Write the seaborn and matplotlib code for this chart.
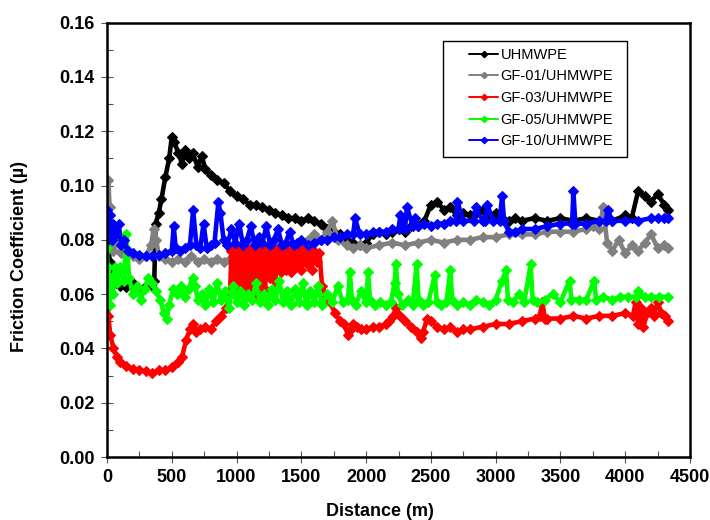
import matplotlib
matplotlib.use("Agg")
import matplotlib.pyplot as plt
import seaborn as sns
from matplotlib.ticker import MultipleLocator, FormatStrFormatter
from matplotlib.lines import Line2D
from matplotlib.patches import Rectangle

# ---------------- data ----------------
series_names = ["UHMWPE", "GF-01/UHMWPE", "GF-03/UHMWPE", "GF-05/UHMWPE", "GF-10/UHMWPE"]
series_colors = ["#000000", "#808080", "#FF0000", "#00FF00", "#0000FF"]

uhmwpe_x = [0, 10, 20, 40, 70, 100, 150, 200, 250, 300,
            340, 365, 375, 400, 420, 450, 480, 500, 520, 550,
            580, 600, 630, 660, 700, 730, 760, 800, 850, 900,
            950, 1000, 1050, 1100, 1150, 1200, 1250, 1300, 1350, 1400,
            1450, 1500, 1550, 1600, 1650, 1700, 1750, 1800, 1850, 1900,
            1950, 2000, 2050, 2100, 2150, 2200, 2250, 2300, 2350, 2400,
            2450, 2500, 2550, 2600, 2650, 2700, 2750, 2800, 2850, 2900,
            2950, 3000, 3050, 3100, 3150, 3200, 3300, 3400, 3500, 3600,
            3700, 3800, 3900, 4000, 4050, 4100, 4150, 4200, 4250, 4300,
            4330]
uhmwpe_y = [0.086, 0.080, 0.072, 0.067, 0.064, 0.063, 0.0625, 0.064, 0.062, 0.063,
            0.0635, 0.065, 0.086, 0.090, 0.095, 0.103, 0.110, 0.118, 0.116, 0.112,
            0.108, 0.113, 0.110, 0.112, 0.107, 0.111, 0.106, 0.104, 0.102, 0.101,
            0.098, 0.096, 0.095, 0.093, 0.093, 0.092, 0.091, 0.090, 0.089, 0.088,
            0.088, 0.087, 0.088, 0.087, 0.086, 0.084, 0.083, 0.082, 0.080, 0.079,
            0.078, 0.079, 0.082, 0.083, 0.082, 0.083, 0.084, 0.083, 0.085, 0.085,
            0.087, 0.093, 0.094, 0.091, 0.092, 0.089, 0.090, 0.089, 0.090, 0.091,
            0.089, 0.090, 0.088, 0.087, 0.088, 0.087, 0.088, 0.087, 0.088, 0.087,
            0.088, 0.087, 0.087, 0.089, 0.088, 0.098, 0.096, 0.094, 0.097, 0.093,
            0.091]

gf01_x = [0, 10, 20, 30, 50, 80, 110, 150, 200, 250,
          300, 340, 360, 380, 400, 450, 500, 550, 600, 650,
          700, 750, 800, 850, 900, 950, 1000, 1050, 1100, 1150,
          1200, 1250, 1300, 1350, 1400, 1450, 1500, 1550, 1600, 1650,
          1700, 1740, 1780, 1850, 1900, 1950, 2000, 2100, 2200, 2300,
          2400, 2500, 2600, 2700, 2800, 2900, 3000, 3100, 3200, 3300,
          3400, 3500, 3600, 3700, 3750, 3800, 3830, 3860, 3900, 3950,
          4000, 4050, 4100, 4150, 4200, 4250, 4300, 4330]
gf01_y = [0.085, 0.102, 0.092, 0.082, 0.076, 0.080, 0.075, 0.077, 0.074, 0.073,
          0.074, 0.078, 0.084, 0.080, 0.074, 0.073, 0.072, 0.073, 0.072, 0.074,
          0.072, 0.073, 0.072, 0.073, 0.072, 0.073, 0.072, 0.073, 0.072, 0.073,
          0.072, 0.073, 0.072, 0.074, 0.076, 0.078, 0.079, 0.080, 0.082, 0.080,
          0.083, 0.087, 0.080, 0.078, 0.077, 0.078, 0.077, 0.078, 0.079, 0.078,
          0.079, 0.080, 0.079, 0.080, 0.080, 0.081, 0.081, 0.082, 0.082, 0.082,
          0.083, 0.083, 0.083, 0.084, 0.085, 0.084, 0.092, 0.079, 0.076, 0.080,
          0.075, 0.078, 0.076, 0.079, 0.082, 0.077, 0.078, 0.077]

gf03_x = [0, 10, 25, 50, 75, 100, 150, 200, 250, 300,
          350, 400, 450, 500, 550, 580, 610, 640, 665, 690,
          720, 760, 800, 840, 880, 920, 950, 960, 975, 990,
          1005, 1020, 1035, 1050, 1065, 1080, 1095, 1110, 1125, 1140,
          1155, 1170, 1185, 1200, 1220, 1240, 1260, 1280, 1300, 1320,
          1340, 1360, 1380, 1400, 1420, 1440, 1460, 1480, 1500, 1520,
          1540, 1560, 1580, 1600, 1620, 1640, 1660, 1690, 1720, 1760,
          1800, 1830, 1860, 1880, 1900, 1930, 1960, 2000, 2050, 2100,
          2150, 2180, 2210, 2230, 2260, 2300, 2350, 2390, 2420, 2440,
          2470, 2500, 2550, 2600, 2650, 2700, 2750, 2800, 2900, 3000,
          3100, 3200, 3300, 3340, 3360, 3380, 3400, 3500, 3600, 3700,
          3800, 3900, 4000, 4060, 4080, 4100, 4120, 4140, 4170, 4200,
          4220, 4250, 4280, 4310, 4330]
gf03_y = [0.060, 0.052, 0.045, 0.040, 0.037, 0.035, 0.0335, 0.0325, 0.032, 0.0315,
          0.031, 0.032, 0.032, 0.033, 0.035, 0.037, 0.043, 0.047, 0.049, 0.046,
          0.047, 0.048, 0.047, 0.050, 0.052, 0.055, 0.060, 0.076, 0.061, 0.077,
          0.060, 0.075, 0.062, 0.077, 0.061, 0.076, 0.060, 0.077, 0.062, 0.075,
          0.060, 0.077, 0.063, 0.076, 0.062, 0.077, 0.066, 0.076, 0.065, 0.077,
          0.068, 0.077, 0.069, 0.076, 0.068, 0.078, 0.070, 0.077, 0.069, 0.076,
          0.071, 0.077, 0.069, 0.076, 0.072, 0.075, 0.063, 0.059, 0.057, 0.053,
          0.050, 0.049, 0.045, 0.047, 0.049, 0.048, 0.047, 0.047, 0.048, 0.048,
          0.049, 0.050, 0.052, 0.055, 0.052, 0.050, 0.048, 0.046, 0.044, 0.046,
          0.051, 0.050, 0.048, 0.047, 0.048, 0.046, 0.047, 0.047, 0.048, 0.049,
          0.049, 0.050, 0.051, 0.052, 0.057, 0.051, 0.051, 0.051, 0.052, 0.051,
          0.052, 0.052, 0.053, 0.052, 0.057, 0.049, 0.055, 0.048, 0.053, 0.055,
          0.052, 0.057, 0.053, 0.052, 0.050]

gf05_x = [0, 5, 10, 20, 30, 45, 60, 80, 100, 130,
          150, 170, 200, 230, 260, 290, 320, 350, 380, 410,
          440, 460, 480, 510, 540, 570, 600, 630, 660, 680,
          700, 730, 760, 790, 820, 850, 880, 910, 940, 970,
          1000, 1030, 1060, 1090, 1120, 1150, 1180, 1210, 1240, 1270,
          1300, 1330, 1360, 1390, 1420, 1450, 1480, 1510, 1540, 1570,
          1600, 1630, 1660, 1700, 1740, 1780, 1820, 1860, 1875, 1890,
          1920, 1960, 2000, 2015, 2030, 2070, 2110, 2150, 2190, 2220,
          2230, 2245, 2280, 2320, 2360, 2390, 2405, 2440, 2480, 2530,
          2545, 2580, 2620, 2650, 2665, 2700, 2750, 2800, 2850, 2900,
          2950, 3000, 3050, 3080, 3095, 3130, 3180, 3220, 3270, 3285,
          3320, 3380, 3440, 3500, 3570, 3585, 3640, 3700, 3760, 3775,
          3830, 3900, 3960, 4020, 4080, 4100, 4150, 4200, 4260, 4330]
gf05_y = [0.077, 0.060, 0.070, 0.056, 0.066, 0.060, 0.070, 0.064, 0.070, 0.065,
          0.082, 0.066, 0.060, 0.063, 0.058, 0.062, 0.066, 0.064, 0.061, 0.058,
          0.053, 0.051, 0.056, 0.062, 0.060, 0.063, 0.059, 0.062, 0.066, 0.063,
          0.058, 0.060, 0.056, 0.062, 0.057, 0.064, 0.058, 0.061, 0.055, 0.063,
          0.057, 0.061, 0.056, 0.060, 0.058, 0.064, 0.057, 0.060, 0.056, 0.062,
          0.058, 0.065, 0.057, 0.061, 0.056, 0.062, 0.057, 0.064, 0.056, 0.061,
          0.057, 0.063, 0.056, 0.060, 0.057, 0.063, 0.057, 0.058, 0.068, 0.058,
          0.056, 0.061, 0.057, 0.068, 0.058, 0.056, 0.057, 0.056, 0.057, 0.064,
          0.071, 0.060, 0.056, 0.058, 0.056, 0.071, 0.058, 0.056, 0.057, 0.067,
          0.057, 0.056, 0.057, 0.069, 0.058, 0.056, 0.057, 0.056, 0.058, 0.057,
          0.056, 0.058, 0.065, 0.069, 0.058, 0.057, 0.060, 0.057, 0.071, 0.058,
          0.057, 0.058, 0.060, 0.057, 0.065, 0.058, 0.058, 0.058, 0.065, 0.058,
          0.059, 0.058, 0.059, 0.059, 0.059, 0.061, 0.059, 0.059, 0.059, 0.059]

gf10_x = [0, 10, 20, 35, 50, 70, 90, 110, 130, 160,
          200, 250, 300, 350, 400, 450, 500, 515, 530, 560,
          600, 640, 665, 690, 720, 745, 770, 800, 830, 860,
          875, 900, 930, 960, 990, 1020, 1050, 1080, 1110, 1140,
          1170, 1200, 1230, 1260, 1290, 1320, 1350, 1380, 1410, 1440,
          1470, 1500, 1550, 1600, 1650, 1700, 1750, 1800, 1850, 1900,
          1915, 1950, 2000, 2050, 2100, 2150, 2200, 2250, 2265, 2300,
          2315, 2360, 2375, 2400, 2450, 2500, 2550, 2600, 2650, 2690,
          2705, 2750, 2830, 2845, 2900, 2920, 2935, 2980, 3030, 3050,
          3065, 3100, 3150, 3200, 3300, 3400, 3500, 3590, 3600, 3615,
          3700, 3800, 3850, 3865, 3900, 4000, 4100, 4200, 4250, 4300,
          4330]
gf10_y = [0.091, 0.084, 0.089, 0.080, 0.086, 0.082, 0.086, 0.078, 0.080, 0.076,
          0.075, 0.0745, 0.074, 0.074, 0.0745, 0.075, 0.076, 0.085, 0.077, 0.076,
          0.077, 0.078, 0.091, 0.078, 0.077, 0.086, 0.077, 0.078, 0.079, 0.094,
          0.090, 0.080, 0.078, 0.084, 0.079, 0.086, 0.078, 0.080, 0.085, 0.078,
          0.081, 0.079, 0.085, 0.078, 0.080, 0.084, 0.078, 0.079, 0.083, 0.078,
          0.079, 0.080, 0.078, 0.079, 0.080, 0.080, 0.081, 0.081, 0.082, 0.082,
          0.088, 0.082, 0.082, 0.083, 0.083, 0.083, 0.084, 0.084, 0.089, 0.084,
          0.092, 0.085, 0.088, 0.085, 0.086, 0.085, 0.086, 0.086, 0.087, 0.087,
          0.094, 0.087, 0.087, 0.092, 0.087, 0.087, 0.093, 0.087, 0.087, 0.096,
          0.087, 0.083, 0.083, 0.084, 0.084, 0.085, 0.086, 0.086, 0.098, 0.086,
          0.086, 0.087, 0.087, 0.091, 0.087, 0.087, 0.087, 0.088, 0.088, 0.088,
          0.088]

x_ticks = [0, 500, 1000, 1500, 2000, 2500, 3000, 3500, 4000, 4500]
y_ticks = [0.00, 0.02, 0.04, 0.06, 0.08, 0.10, 0.12, 0.14, 0.16]

# ---------------- plotting ----------------
sns.set_theme(style="white")
plt.rcParams["font.family"] = ["Liberation Sans", "DejaVu Sans"]

fig = plt.figure(figsize=(7.1, 5.2), dpi=100)
ax = fig.add_axes([107 / 710, 1 - 457 / 520, 583 / 710, (457 - 22.7) / 520])

all_x = [uhmwpe_x, gf01_x, gf03_x, gf05_x, gf10_x]
all_y = [uhmwpe_y, gf01_y, gf03_y, gf05_y, gf10_y]
for xs, ys, col in zip(all_x, all_y, series_colors):
    sns.lineplot(x=xs, y=ys, color=col, lw=3.3, marker="D", markersize=4.6,
                 markeredgewidth=0.8, markeredgecolor=col, sort=False,
                 estimator=None, ax=ax, legend=False)

ax.set_xlim(0, 4500)
ax.set_ylim(0, 0.16)
ax.set_xticks(x_ticks)
ax.set_yticks(y_ticks)
ax.xaxis.set_minor_locator(MultipleLocator(250))
ax.yaxis.set_minor_locator(MultipleLocator(0.01))
ax.yaxis.set_major_formatter(FormatStrFormatter("%.2f"))

for sp in ax.spines.values():
    sp.set_visible(True)
    sp.set_color("black")
    sp.set_linewidth(1.8)

ax.tick_params(which="major", direction="inout", length=8, width=0.8,
               color="#555555", labelsize=13, pad=5)
ax.tick_params(which="minor", direction="in", length=4, width=0.8,
               color="#555555")
ax.tick_params(axis="both", which="both", bottom=True, left=True, top=False, right=False)
for lab in ax.get_xticklabels() + ax.get_yticklabels():
    lab.set_fontweight("bold")
    lab.set_color("black")

ax.set_xlabel("Distance (m)", fontsize=13, fontweight="bold", color="black")
ax.set_ylabel("Friction Coefficient (\u00b5)", fontsize=13, fontweight="bold", color="black")
ax.xaxis.set_label_coords(0.468, -0.106)
ax.yaxis.set_label_coords(-0.1355, 0.462)

# legend box (drawn as a patch, legend itself frameless)
rect = Rectangle((0.576, 0.690), 0.316, 0.269, transform=ax.transAxes,
                 facecolor="white", edgecolor="black", lw=1.0, zorder=4, clip_on=False)
ax.add_patch(rect)
handles = [Line2D([], [], color=c, lw=1.4, marker="D", markersize=3.2) for c in series_colors]
leg = ax.legend(handles, series_names, loc="upper left", bbox_to_anchor=(0.621, 0.942),
                frameon=False, borderpad=0, borderaxespad=0, handlelength=2.0,
                handletextpad=0.15, labelspacing=0.52, fontsize=10.5)
leg.set_zorder(5)
for t in leg.get_texts():
    t.set_color("black")

fig.savefig("out.png", dpi=100)
